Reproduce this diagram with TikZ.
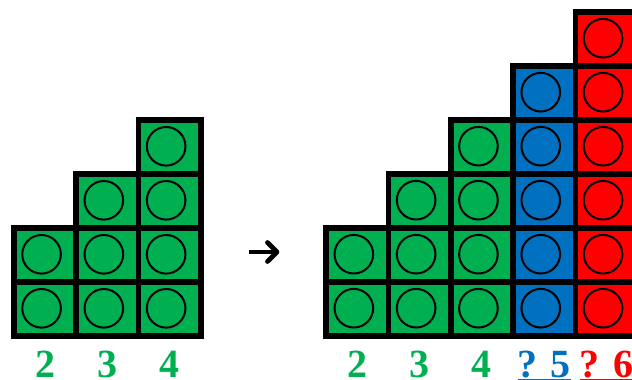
\documentclass[tikz,border=0pt]{standalone}
\usepackage{fontspec}
\setmainfont{Liberation Serif}
\usetikzlibrary{arrows.meta}
\definecolor{cellgreen}{HTML}{00B050}
\definecolor{cellblue}{HTML}{0070C0}
\definecolor{cellred}{HTML}{FF0000}
\newcommand{\ulabel}[1]{\sbox0{#1}\rlap{\rule[-3pt]{\wd0}{1.5pt}}\usebox0}
\tikzset{
  cell/.style={rectangle,draw=black,line width=5.7pt,minimum width=62.3pt,minimum height=54pt,inner sep=0pt},
  bead/.style={circle,draw=black,line width=2pt,minimum size=38.6pt,inner sep=0pt},
  tally/.style={anchor=base,inner sep=0pt,font=\bfseries\fontsize{40}{40}\selectfont},
}

\begin{document}
\begin{tikzpicture}[x=1pt,y=-1pt]
        \clip (0,0) rectangle (632,380);
        \foreach \col/\height/\tint in {1/2/cellgreen,2/3/cellgreen,3/4/cellgreen} {
          \foreach \row in {1,...,\height} {
            \node [cell,fill=\tint] (L-\col-\row) at ({13.9+(\col-0.5)*62.3},{336.3-(\row-0.5)*54}) {};
            \node [bead] (Lb-\col-\row) at ([shift={(-3.5,-1)}]L-\col-\row.center) {};
          }
          \node [tally,text=\tint] (Ln-\col) at ({13.9+(\col-0.5)*62.3},377) {\height};
        }
        \foreach \col/\height/\tint in {1/2/cellgreen,2/3/cellgreen,3/4/cellgreen,4/5/cellblue,5/6/cellred} {
          \foreach \row in {1,...,\height} {
            \node [cell,fill=\tint] (R-\col-\row) at ({326.2+(\col-0.5)*62.3},{336.2-(\row-0.5)*54}) {};
            \node [bead] (Rb-\col-\row) at ([shift={(-3.5,-1)}]R-\col-\row.center) {};
          }
        }
        \foreach \col/\height in {1/2,2/3,3/4} {
          \node [tally,text=cellgreen] (Rn-\col) at ({326.2+(\col-0.5)*62.3},377) {\height};
        }
        \node [tally,text=cellblue] (Rn-4) at ({326.2+3.5*62.3},377) {\ulabel{? 5}};
        \node [tally,text=cellred] (Rn-5) at ({326.2+4.5*62.3},377) {\ulabel{? 6}};
        \coordinate (arrL) at (248.7,252);
        \coordinate (arrR) at (279.3,252);
        \draw[line width=4.7pt,-{Straight Barb[length=9.5pt,width=19pt,line join=round,line cap=round]}] (arrL) -- (arrR);
\end{tikzpicture}
\end{document}
